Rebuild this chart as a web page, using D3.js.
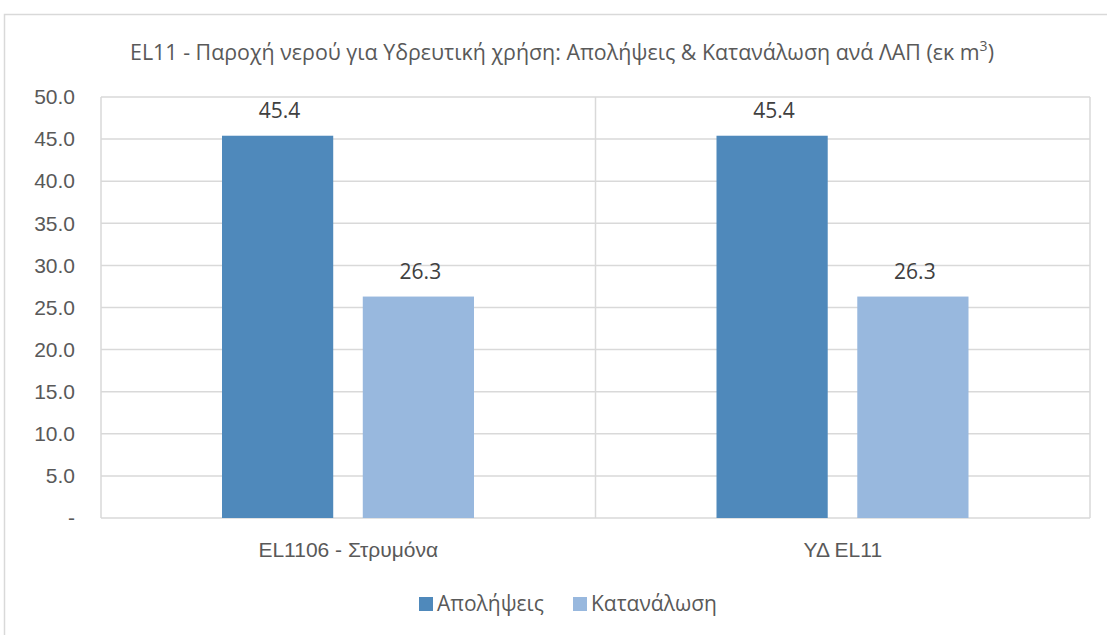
<!DOCTYPE html>
<meta charset="utf-8">
<style>
body { margin: 0; background: #fff; }
svg { display: block; font-family: "Open Sans", sans-serif; }
.grid line { stroke: #d9d9d9; stroke-width: 1.5px; }
.axis text { fill: #595959; font-size: 21px; }
</style>
<svg width="1107" height="635"></svg>
<script src="https://d3js.org/d3.v7.min.js"></script>
<script>

const categories = ["EL1106 - Στρυμόνα", "ΥΔ EL11"];
const seriesNames = ["Απολήψεις", "Κατανάλωση"];
const apolipseis = [45.4, 45.4];
const katanalosi = [26.3, 26.3];
const yTicks = [0, 5, 10, 15, 20, 25, 30, 35, 40, 45, 50];
const colors = ["#4f89bb", "#98b8de"];

const svg = d3.select("svg");

// chart frame
svg.append("rect")
  .attr("x", 4.5).attr("y", 14.5)
  .attr("width", 1120).attr("height", 640)
  .attr("fill", "none")
  .attr("stroke", "#d9d9d9")
  .attr("stroke-width", 1.5);

const plotLeft = 101, plotRight = 1090, plotTop = 97, plotBottom = 518;

const y = d3.scaleLinear().domain([0, 50]).range([plotBottom, plotTop]);
const x0 = d3.scaleBand().domain(categories).range([plotLeft, plotRight]);
const x1 = d3.scaleBand().domain(seriesNames).range([121, 373]).paddingInner(0.21);

const grid = svg.append("g").attr("class", "grid");
grid.selectAll("line.h")
  .data(yTicks)
  .enter().append("line")
    .attr("x1", plotLeft).attr("x2", plotRight)
    .attr("y1", d => y(d)).attr("y2", d => y(d));
grid.selectAll("line.v")
  .data([plotLeft, x0(categories[1]), plotRight])
  .enter().append("line")
    .attr("x1", d => d).attr("x2", d => d)
    .attr("y1", plotTop).attr("y2", plotBottom);

// y axis labels
const yAxis = d3.axisLeft(y)
  .tickValues(yTicks)
  .tickSize(0)
  .tickPadding(0)
  .tickFormat(d => d === 0 ? "-" : d3.format(".1f")(d));

svg.append("g")
  .attr("class", "axis")
  .attr("transform", "translate(75,0)")
  .call(yAxis)
  .call(g => g.select(".domain").remove());

// bars
const rows = categories.map((c, i) => ({ cat: c, values: [apolipseis[i], katanalosi[i]] }));

const group = svg.append("g").selectAll("g")
  .data(rows)
  .enter().append("g")
    .attr("transform", d => "translate(" + x0(d.cat) + ",0)");

const bar = group.selectAll("g")
  .data(d => d.values.map((v, j) => ({ name: seriesNames[j], value: v, j: j })))
  .enter().append("g");

bar.append("rect")
  .attr("x", d => x1(d.name))
  .attr("y", d => y(d.value))
  .attr("width", x1.bandwidth())
  .attr("height", d => plotBottom - y(d.value))
  .attr("fill", d => colors[d.j]);

bar.append("text")
  .attr("x", d => x1(d.name) + x1.bandwidth() / 2 + 2)
  .attr("y", d => y(d.value) - 18)
  .attr("text-anchor", "middle")
  .attr("fill", "#404040")
  .attr("font-size", "21px")
  .text(d => d3.format(".1f")(d.value));

// category labels
const xAxis = d3.axisBottom(x0).tickSize(0).tickPadding(24);
svg.append("g")
  .attr("class", "axis")
  .attr("transform", "translate(0," + plotBottom + ")")
  .call(xAxis)
  .call(g => g.select(".domain").remove());

// title
const title = svg.append("text")
  .attr("x", 562)
  .attr("y", 60)
  .attr("text-anchor", "middle")
  .attr("fill", "#595959")
  .attr("font-size", "21.4px");
title.append("tspan").text("EL11 - Παροχή νερού για Υδρευτική χρήση: Απολήψεις & Κατανάλωση ανά ΛΑΠ (εκ m");
title.append("tspan").attr("font-size", "14px").attr("dy", -9).text("3");
title.append("tspan").attr("dy", 9).text(")");

// legend
const legendX = [419, 573];
const legend = svg.append("g").selectAll("g")
  .data(seriesNames)
  .enter().append("g")
    .attr("transform", (d, i) => "translate(" + legendX[i] + ",597)");
legend.append("rect")
  .attr("width", 14).attr("height", 14)
  .attr("fill", (d, i) => colors[i]);
legend.append("text")
  .attr("x", 18).attr("y", 14)
  .attr("fill", "#595959")
  .attr("font-size", "21px")
  .text(d => d);

</script>
